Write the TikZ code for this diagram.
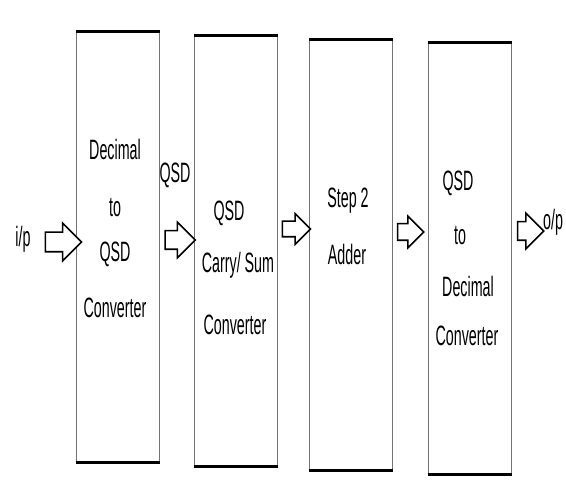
\documentclass[tikz,border=0pt]{standalone}
\usepackage{fontspec}
\setmainfont{Liberation Sans}
\newfontfamily\narrowfont[FakeStretch=0.51]{Liberation Sans}
\usetikzlibrary{shapes.arrows}
\begin{document}
\begin{tikzpicture}[x=1pt,y=-1pt,
  stage/.style={draw=black!55, line width=1.3pt, minimum width=83pt, inner sep=0pt, anchor=north west},
  edge/.style={line width=3pt, line cap=butt},
  txt/.style={font=\narrowfont\fontsize{28}{28}\selectfont, inner sep=0pt, anchor=base},
  flow/.style={single arrow, draw=black, line width=1.6pt, fill=white, inner xsep=0pt,
    single arrow tip angle=90}
]
\useasboundingbox (0,0) rectangle (566,486);

% processing stages
\node[stage, minimum height=429pt] (b1) at (76,32) {};
\node[stage, minimum height=429pt] (b2) at (194,36) {};
\node[stage, minimum height=429pt] (b3) at (309,40) {};
\node[stage, minimum height=430pt] (b4) at (428,43) {};
\foreach \b in {b1,b2,b3,b4}{
  \draw[edge] (\b.north west) -- (\b.north east);
  \draw[edge] (\b.south west) -- (\b.south east);
}

% stage captions
\node[txt] (t11) at (115,160) {Decimal};
\node[txt] (t12) at (115,217) {to};
\node[txt] (t13) at (115,262) {QSD};
\node[txt] (t14) at (115,318) {Converter};

\node[txt] (t21) at (229,221) {QSD};
\node[txt] (t22) at (238,273) {Carry/ Sum};
\node[txt] (t23) at (235,335) {Converter};

\node[txt] (t31) at (348,208) {Step 2};
\node[txt] (t32) at (347,265) {Adder};

\node[txt] (t41) at (458,191) {QSD};
\node[txt] (t42) at (460,245) {to};
\node[txt] (t43) at (468,297) {Decimal};
\node[txt] (t44) at (467,346) {Converter};

% data flow between stages
\node[txt] (in) at (23,247) {i/p};
\node[txt] (mid) at (175,183) {QSD};
\node[txt, anchor=base west] (out) at (543,230) {o/p};

\node[flow, minimum height=36pt, inner ysep=9pt, single arrow head extend=9pt] (a1) at (58.5,242) {};
\node[flow, minimum height=30pt, inner ysep=8.5pt, single arrow head extend=8.5pt] (a2) at (175.5,240) {};
\node[flow, minimum height=28pt, inner ysep=7pt, single arrow head extend=7.5pt] (a3) at (292.5,229) {};
\node[flow, minimum height=26pt, inner ysep=7.5pt, single arrow head extend=7.5pt] (a4) at (406.5,232) {};
\node[flow, minimum height=26pt, inner ysep=8.5pt, single arrow head extend=8.5pt] (a5) at (526,231) {};
\end{tikzpicture}
\end{document}
